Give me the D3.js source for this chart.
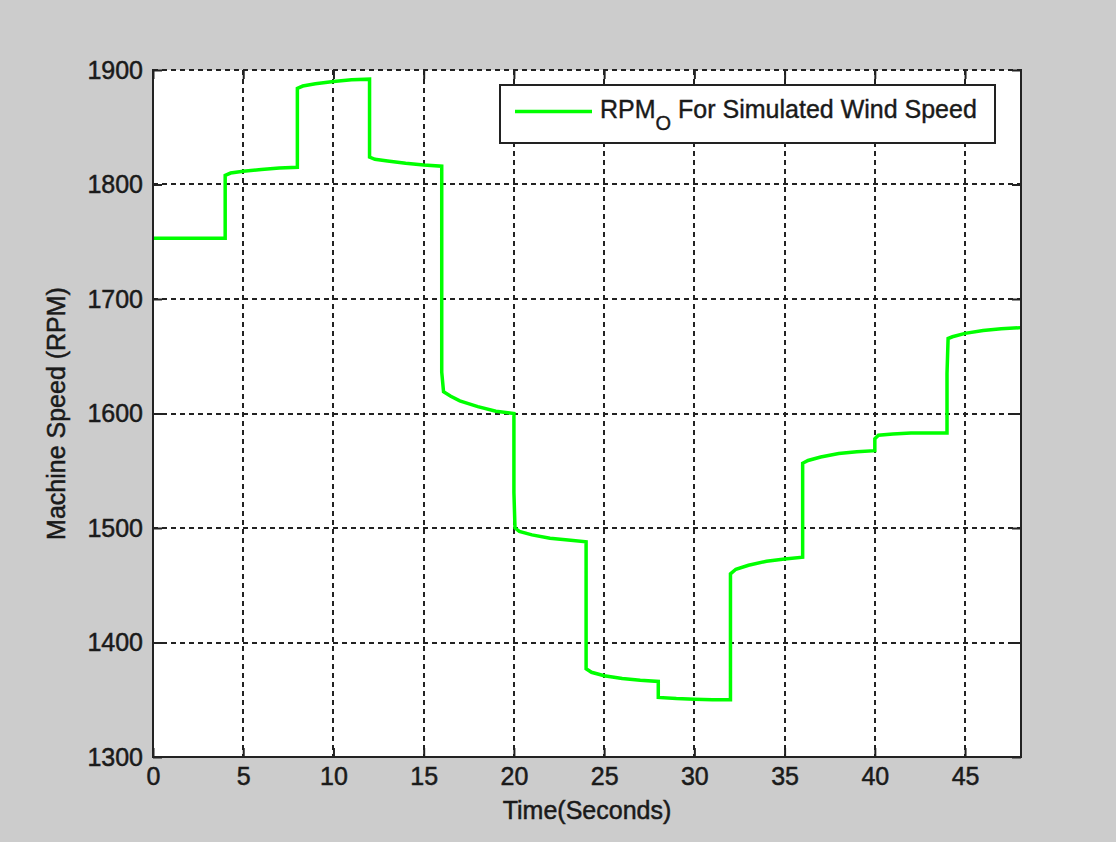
<!DOCTYPE html>
<html>
<head>
<meta charset="utf-8">
<script src="https://cdn.jsdelivr.net/npm/d3@7"></script>
<style>
  html, body { margin: 0; padding: 0; background: #cccccc; }
  svg { display: block; }
  text { font-family: "Liberation Sans", Arial, sans-serif; fill: #1a1a1a; }
</style>
</head>
<body>
<svg id="chart" width="1116" height="842"></svg>
<script>
// ---- data ----
const timeSec = [
  0, 4,
  4, 4.3, 5, 6, 7, 8,
  8, 8.3, 9, 10, 11, 12,
  12, 12.3, 13, 14, 15, 16,
  16, 16.1, 16.5, 17, 18, 19, 20,
  20, 20.06, 20.3, 21, 22, 23, 24,
  24, 24.3, 25, 26, 27, 28,
  28, 29, 30, 31, 32,
  32, 32.3, 33, 34, 35, 36,
  36, 36.3, 37, 38, 39, 40,
  40, 40.2, 41, 42, 43, 44,
  44, 44.06, 44.3, 45, 46, 47, 48.1
];
const rpm = [
  1753, 1753,
  1808, 1810, 1811.5, 1813, 1814.5, 1815,
  1884, 1886, 1888, 1890, 1891.5, 1892,
  1824, 1822, 1820.5, 1818.5, 1817, 1816,
  1636, 1619, 1615, 1611, 1606, 1602, 1600,
  1531, 1500, 1497, 1494, 1491, 1489.5, 1488,
  1377, 1374, 1371, 1368.5, 1367, 1366,
  1352, 1351, 1350.5, 1350, 1350,
  1460, 1464, 1467.5, 1471, 1473, 1474.5,
  1556.5, 1559, 1562, 1565, 1566.5, 1567.5,
  1578, 1581, 1582, 1583, 1583, 1583,
  1635, 1665.5, 1667, 1670, 1672.5, 1674, 1675
];
const xTicks = [0, 5, 10, 15, 20, 25, 30, 35, 40, 45];
const yTicks = [1300, 1400, 1500, 1600, 1700, 1800, 1900];
const xDomain = [0, 48.1];
const yDomain = [1300, 1900];
const seriesName = "RPM";
const seriesSub = "O";
const seriesRest = " For Simulated Wind Speed";
const xLabel = "Time(Seconds)";
const yLabel = "Machine Speed (RPM)";

// ---- layout ----
const L = 153, R = 1021, T = 70, B = 757;
const axisColor = "#222222";
const textColor = "#1a1a1a";
const svg = d3.select("#chart");

const x = d3.scaleLinear().domain(xDomain).range([L, R]);
const y = d3.scaleLinear().domain(yDomain).range([B, T]);

// plot background
svg.append("rect").attr("x", L).attr("y", T).attr("width", R - L).attr("height", B - T)
  .attr("fill", "#ffffff");

// grid
const grid = svg.append("g").attr("stroke", axisColor).attr("stroke-width", 2)
  .attr("stroke-dasharray", "5,4");
grid.selectAll(".vg").data(xTicks.filter(d => d > xDomain[0])).enter().append("line")
  .attr("x1", d => Math.round(x(d))).attr("x2", d => Math.round(x(d)))
  .attr("y1", T).attr("y2", B);
grid.selectAll(".hg").data(yTicks.filter(d => d > yDomain[0])).enter().append("line")
  .attr("y1", d => Math.round(y(d))).attr("y2", d => Math.round(y(d)))
  .attr("x1", L).attr("x2", R);

// data line
const pts = timeSec.map((t, i) => [t, rpm[i]]);
svg.append("path").datum(pts)
  .attr("fill", "none").attr("stroke", "#00ff00").attr("stroke-width", 3.5)
  .attr("stroke-linejoin", "miter")
  .attr("d", d3.line().x(d => x(d[0])).y(d => y(d[1])));

// axes
const fs = 25;
const xAxis = svg.append("g").attr("transform", `translate(0,${B})`)
  .call(d3.axisBottom(x).tickValues(xTicks).tickFormat(d3.format("d"))
    .tickSizeInner(-9).tickSizeOuter(0).tickPadding(10));
const yAxis = svg.append("g").attr("transform", `translate(${L},0)`)
  .call(d3.axisLeft(y).tickValues(yTicks).tickFormat(d3.format("d"))
    .tickSizeInner(-9).tickSizeOuter(0).tickPadding(10));
const xTop = svg.append("g").attr("transform", `translate(0,${T})`)
  .call(d3.axisTop(x).tickValues(xTicks).tickSizeInner(-9).tickSizeOuter(0).tickFormat(""));
const yRight = svg.append("g").attr("transform", `translate(${R},0)`)
  .call(d3.axisRight(y).tickValues(yTicks).tickSizeInner(-9).tickSizeOuter(0).tickFormat(""));
[xAxis, yAxis, xTop, yRight].forEach(g => {
  g.select(".domain").remove();
  g.selectAll(".tick line").attr("stroke", axisColor).attr("stroke-width", 2);
  g.selectAll("text").attr("font-size", fs).attr("font-family", '"Liberation Sans", Arial, sans-serif')
    .attr("fill", textColor).attr("stroke", textColor).attr("stroke-width", 0.5);
});

// box
const box = svg.append("g").attr("stroke", axisColor).attr("stroke-width", 2).attr("fill", "none");
box.append("line").attr("x1", L).attr("x2", L).attr("y1", T - 1).attr("y2", B + 1);
box.append("line").attr("x1", L - 1).attr("x2", R + 1).attr("y1", B).attr("y2", B);
box.append("line").attr("x1", R).attr("x2", R).attr("y1", T - 1).attr("y2", B + 1);
box.append("line").attr("x1", L).attr("x2", R).attr("y1", T).attr("y2", T)
  .attr("stroke-dasharray", "5,4");

// axis labels
svg.append("text").attr("x", (L + R) / 2).attr("y", 819).attr("text-anchor", "middle")
  .attr("font-size", fs).attr("stroke", textColor).attr("stroke-width", 0.5).text(xLabel);
svg.append("text").attr("transform", `translate(65,${(T + B) / 2}) rotate(-90)`)
  .attr("text-anchor", "middle").attr("font-size", fs)
  .attr("stroke", textColor).attr("stroke-width", 0.5).text(yLabel);

// legend
const lg = svg.append("g");
lg.append("rect").attr("x", 500).attr("y", 85).attr("width", 495).attr("height", 58)
  .attr("fill", "#ffffff").attr("stroke", axisColor).attr("stroke-width", 2);
lg.append("line").attr("x1", 515).attr("x2", 592).attr("y1", 111.5).attr("y2", 111.5)
  .attr("stroke", "#00ff00").attr("stroke-width", 3.5);
const lt = lg.append("text").attr("x", 600).attr("y", 118).attr("font-size", fs)
  .attr("stroke", textColor).attr("stroke-width", 0.4);
lt.append("tspan").text(seriesName);
lt.append("tspan").attr("dy", 12).attr("font-size", 20).text(seriesSub);
lt.append("tspan").attr("dy", -12).text(seriesRest);
</script>
</body>
</html>
